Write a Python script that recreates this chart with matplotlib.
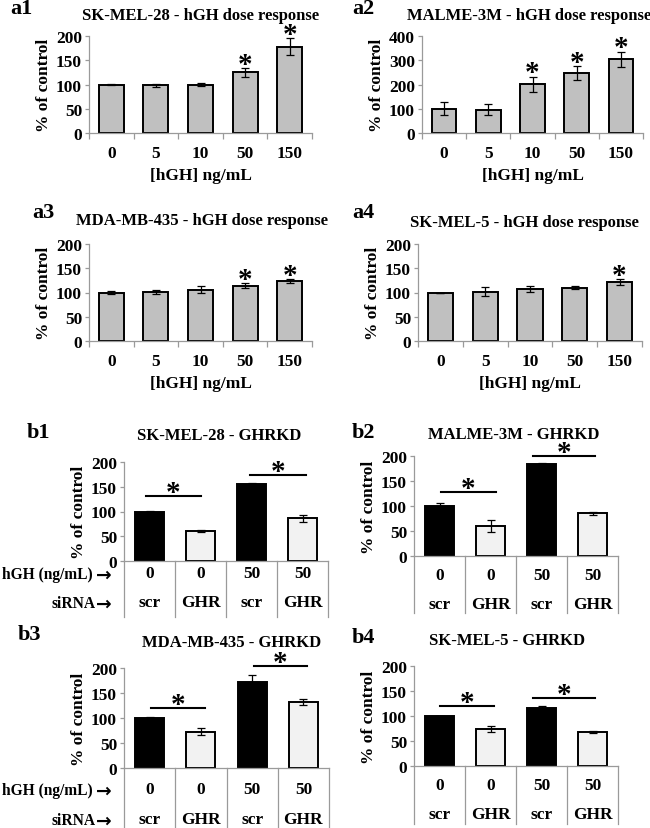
import matplotlib
matplotlib.use("Agg")
import matplotlib.pyplot as plt

plt.rcParams['font.family'] = ['Liberation Serif', 'DejaVu Serif']
plt.rcParams['font.weight'] = 'bold'

W, H = 650, 829

# ---------------- data ----------------
dose_labels = ["0", "5", "10", "50", "150"]

a1_title = "SK-MEL-28 - hGH dose response"
a1_vals = [100, 98, 100, 125, 178]
a1_err = [2, 4, 4, 9, 17]
a1_sig = [False, False, False, True, True]

a2_title = "MALME-3M - hGH dose response"
a2_vals = [100, 96, 201, 247, 305]
a2_err = [27, 23, 31, 28, 31]
a2_sig = [False, False, True, True, True]

a3_title = "MDA-MB-435 - hGH dose response"
a3_vals = [100, 101, 106, 114, 123]
a3_err = [4, 5, 8, 5, 4]
a3_sig = [False, False, False, True, True]

a4_title = "SK-MEL-5 - hGH dose response"
a4_vals = [100, 102, 107, 110, 121]
a4_err = [0, 9, 6, 3, 6]
a4_sig = [False, False, False, False, True]

kd_hgh = ["0", "0", "50", "50"]
kd_sirna = ["scr", "GHR", "scr", "GHR"]
row_labels = ["hGH (ng/mL)", "siRNA"]

b1_title = "SK-MEL-28 - GHRKD"
b1_vals = [100, 61, 156, 86]
b1_err = [2, 2, 2, 7]
b1_sig = [(-0.07, 1.01, 131), (1.97, 3.06, 174)]

b2_title = "MALME-3M - GHRKD"
b2_vals = [101, 60, 185, 86]
b2_err = [5, 12, 2, 3]
b2_sig = [(0.03, 1.1, 128), (1.83, 3.05, 200)]

b3_title = "MDA-MB-435 - GHRKD"
b3_vals = [100, 73, 172, 133]
b3_err = [3, 7, 15, 6]
b3_sig = [(0.03, 1.09, 120), (2.03, 3.07, 204)]

b4_title = "SK-MEL-5 - GHRKD"
b4_vals = [100, 74, 117, 69]
b4_err = [0, 6, 3, 2]
b4_sig = [(0.01, 1.07, 120), (1.83, 3.05, 136)]

# ---------------- helpers ----------------
fig = plt.figure(figsize=(W / 100, H / 100), dpi=100)
GRID = '#9a9a9a'
FS = 12.5
STAR = 21


def add_ax(left, right, top, bottom):
    return fig.add_axes([left / W, 1 - bottom / H, (right - left) / W, (bottom - top) / H])


def ftext(x, y, s, size, ha='left', va='center', family=None):
    kw = {}
    if family:
        kw['family'] = family
    fig.text(x / W, 1 - y / H, s, fontsize=size, fontweight='bold', ha=ha, va=va, **kw)


def style_axes(ax, ymax, step):
    for sp in ['top', 'right']:
        ax.spines[sp].set_visible(False)
    for sp in ['left', 'bottom']:
        ax.spines[sp].set_color(GRID)
        ax.spines[sp].set_linewidth(0.9)
    ax.set_ylim(0, ymax)
    ax.set_yticks(range(0, ymax + 1, step))
    ax.tick_params(axis='y', colors=GRID, labelcolor='black', length=3, width=0.9,
                   labelsize=FS, pad=2)
    for lab in ax.get_yticklabels():
        lab.set_fontweight('bold')
    ax.set_ylabel("% of control", fontsize=FS, fontweight='bold', labelpad=3)


def dose_panel(ax, vals, err, sig, ymax, step):
    n = len(vals)
    x = list(range(n))
    ax.bar(x, vals, width=0.56, color='#c0c0c0', edgecolor='black', linewidth=1.4, zorder=2)
    ax.errorbar(x, vals, yerr=err, fmt='none', ecolor='black', elinewidth=0.9,
                capsize=3, capthick=0.9, zorder=3)
    ax.set_xlim(-0.5, n - 0.5)
    style_axes(ax, ymax, step)
    ax.set_xticks(x)
    ax.set_xticklabels(dose_labels, fontsize=FS, fontweight='bold')
    ax.tick_params(axis='x', which='major', length=0, pad=9)
    ax.set_xticks([i - 0.5 for i in range(n + 1)], minor=True)
    ax.tick_params(axis='x', which='minor', length=4, width=0.9, color=GRID)
    ax.set_xlabel("[hGH] ng/mL", fontsize=FS, fontweight='bold', labelpad=4)
    for xi, v, e, s in zip(x, vals, err, sig):
        if s:
            ax.annotate("*", (xi, v + e), xytext=(0, -7), textcoords='offset points',
                        ha='center', va='bottom', fontsize=STAR, fontweight='bold',
                        annotation_clip=False)


def kd_panel(ax, vals, err, sig, show_rows, row_ys, bottom_y, top_px, bot_px):
    n = len(vals)
    x = list(range(n))
    colors = ['black', '#f2f2f2', 'black', '#f2f2f2']
    ax.bar(x, vals, width=0.57, color=colors, edgecolor='black', linewidth=1.4, zorder=2)
    ax.errorbar(x, vals, yerr=err, fmt='none', ecolor='black', elinewidth=0.9,
                capsize=3, capthick=0.9, zorder=3)
    ax.set_xlim(-0.5, n - 0.5)
    style_axes(ax, 200, 50)
    ax.set_xticks([])
    trans = ax.get_xaxis_transform()
    hpx = bot_px - top_px

    def fy(ypx):
        return (bot_px - ypx) / hpx

    for i in range(n + 1):
        ax.plot([i - 0.5, i - 0.5], [0, fy(bottom_y)], color=GRID, lw=0.9,
                transform=trans, clip_on=False)
    for xi, a, b in zip(x, kd_hgh, kd_sirna):
        ax.text(xi, fy(row_ys[0]), a, transform=trans, ha='center', va='center',
                fontsize=FS, fontweight='bold')
        ax.text(xi, fy(row_ys[1]), b, transform=trans, ha='center', va='center',
                fontsize=FS, fontweight='bold')
    if show_rows:
        ftext(93, row_ys[0] + 1, row_labels[0], 11.2, ha='right')
        ftext(96, row_ys[1] + 1, row_labels[1], 11.2, ha='right')
        for yy in row_ys:
            ftext(112, yy + 1, "\u2192", 13.5, ha='right', family=['DejaVu Sans'])
    for x0, x1, y in sig:
        ax.plot([x0, x1], [y, y], color='black', lw=1.5, clip_on=False, zorder=4)
        ax.annotate("*", ((x0 + x1) / 2, y), xytext=(0, -7), textcoords='offset points',
                    ha='center', va='bottom', fontsize=STAR, fontweight='bold',
                    annotation_clip=False)


# ---------------- panels a ----------------
ax = add_ax(89, 312, 37, 134)
dose_panel(ax, a1_vals, a1_err, a1_sig, 200, 50)
ax = add_ax(422, 643, 37, 134)
dose_panel(ax, a2_vals, a2_err, a2_sig, 400, 100)
ax = add_ax(89, 312, 245, 342)
dose_panel(ax, a3_vals, a3_err, a3_sig, 200, 50)
ax = add_ax(418, 642, 245, 342)
dose_panel(ax, a4_vals, a4_err, a4_sig, 200, 50)

ftext(82, 16, a1_title, 12)
ftext(407, 16, a2_title, 12)
ftext(76, 221, a3_title, 12)
ftext(410, 223, a4_title, 12)

ftext(10, 9, "a1", 16)
ftext(352, 9, "a2", 16)
ftext(32, 213, "a3", 16)
ftext(352, 213, "a4", 16)

# ---------------- panels b ----------------
ax = add_ax(124, 328, 463, 562)
kd_panel(ax, b1_vals, b1_err, b1_sig, True, (574, 603), 618, 463, 562)
ax = add_ax(414, 618, 457, 557)
kd_panel(ax, b2_vals, b2_err, b2_sig, False, (576, 605), 614, 457, 557)
ax = add_ax(124, 329, 669, 769)
kd_panel(ax, b3_vals, b3_err, b3_sig, True, (790, 820), 829, 669, 769)
ax = add_ax(414, 618, 667, 767)
kd_panel(ax, b4_vals, b4_err, b4_sig, False, (786, 815), 825, 667, 767)

ftext(137, 436, b1_title, 12)
ftext(428, 435, b2_title, 12)
ftext(142, 643, b3_title, 12)
ftext(429, 641, b4_title, 12)

ftext(27, 433, "b1", 16)
ftext(352, 433, "b2", 16)
ftext(18, 635, "b3", 16)
ftext(352, 638, "b4", 16)

fig.savefig("out.png", dpi=100)
